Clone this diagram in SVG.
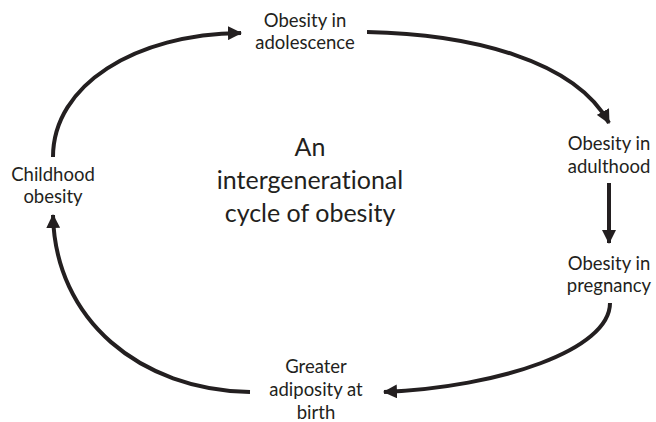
<svg xmlns="http://www.w3.org/2000/svg" width="656" height="422" viewBox="0 0 656 422">
<style>
.lbl{font-family:Lato,"Open Sans","Liberation Sans",sans-serif;font-size:18.5px;fill:#231f20;text-anchor:middle;font-variant-ligatures:none}
.title{font-family:Lato,"Open Sans","Liberation Sans",sans-serif;font-size:25px;fill:#231f20;text-anchor:middle;font-variant-ligatures:none}
.conn{fill:none;stroke:#231f20;stroke-width:4}
</style>
<defs>
<marker id="ah" markerUnits="userSpaceOnUse" markerWidth="16" markerHeight="14" refX="13" refY="7" orient="auto">
<path d="M0,0 L14,7 L0,14 Z" fill="#231f20"/>
</marker>
</defs>
<rect width="656" height="422" fill="#fff"/>
<g id="connectors">
<path class="conn" d="M53,157 C53,85 135,34 241,33" marker-end="url(#ah)"/>
<path class="conn" d="M367,32 C470,34 575,60 609,123" marker-end="url(#ah)"/>
<path class="conn" d="M609,183 L609,243" marker-end="url(#ah)"/>
<path class="conn" d="M610,303 C610,350 500,387 384,392" marker-end="url(#ah)"/>
<path class="conn" d="M250,392 C140,390 55,320 53,215" marker-end="url(#ah)"/>
</g>
<g id="adolescence"><text class="lbl" x="305" y="27">Obesity in</text><text class="lbl" x="305" y="49">adolescence</text></g>
<g id="adulthood"><text class="lbl" x="609" y="150">Obesity in</text><text class="lbl" x="609" y="173">adulthood</text></g>
<g id="pregnancy"><text class="lbl" x="609" y="270">Obesity in</text><text class="lbl" x="609" y="292">pregnancy</text></g>
<g id="birth"><text class="lbl" x="316" y="373">Greater</text><text class="lbl" x="316" y="396">adiposity at</text><text class="lbl" x="316" y="419">birth</text></g>
<g id="childhood"><text class="lbl" x="53" y="181">Childhood</text><text class="lbl" x="53" y="203">obesity</text></g>
<g id="title"><text class="title" x="310" y="156">An</text><text class="title" x="310" y="189">intergenerational</text><text class="title" x="310" y="222">cycle of obesity</text></g>
</svg>
